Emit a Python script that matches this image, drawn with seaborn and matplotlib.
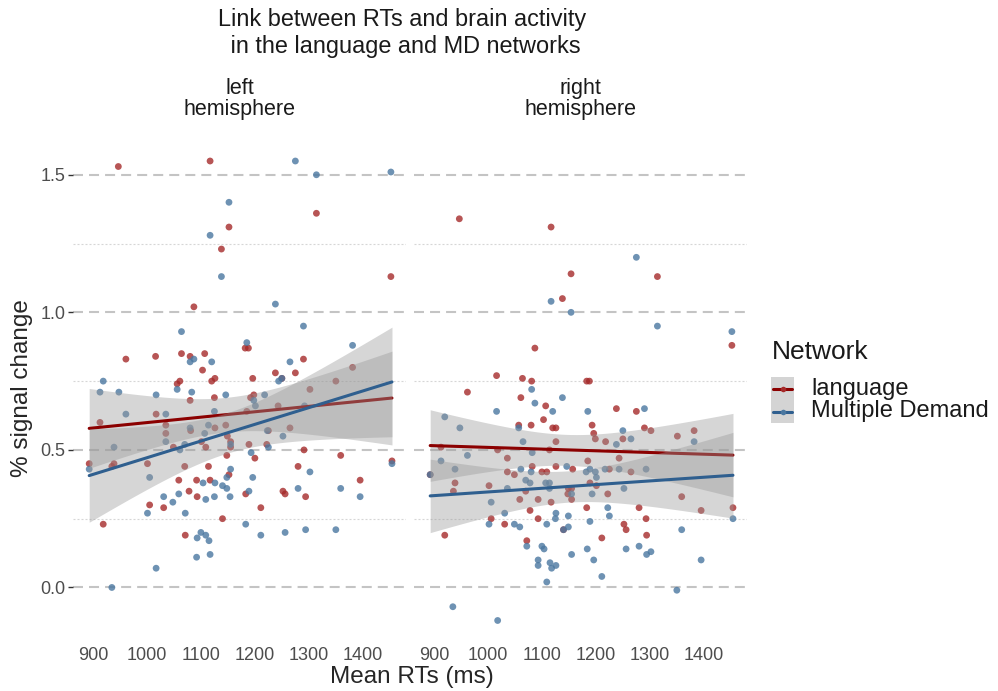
import numpy as np
import pandas as pd
import matplotlib
matplotlib.use("Agg")
import matplotlib.pyplot as plt
import seaborn as sns
from matplotlib.lines import Line2D
from matplotlib.patches import Rectangle

# mean RT (ms) and % signal change per subject
lh_lang_rt = [947, 1117, 1152, 1138, 1314, 1452, 1087, 1182, 1188, 961, 1016, 1064, 1080, 1107, 1290, 1381,
              1238, 1103, 1056, 1061, 1120, 1126, 1125, 1080, 1017, 913, 1035, 1035, 1126, 1146, 1081, 1101,
              1109, 1049, 1148, 893, 935, 939, 1001, 1070, 1114, 1152, 1059, 1092, 1117, 1078, 1093, 1005,
              1031, 1140, 919, 1071, 1250, 1275, 1196, 1198, 1192, 1149, 1155, 1155, 1185, 1243, 1302, 1350,
              1225, 1265, 1222, 1189, 1291, 1200, 1359, 1454, 1280, 1183, 1252, 1256, 1294, 1395, 1211]
lh_lang_psc = [1.53, 1.55, 1.31, 1.23, 1.36, 1.13, 1.02, 0.87, 0.87, 0.83, 0.84, 0.85, 0.84, 0.85, 0.83, 0.80,
               0.78, 0.79, 0.74, 0.75, 0.75, 0.76, 0.69, 0.68, 0.63, 0.60, 0.59, 0.56, 0.58, 0.59, 0.57, 0.53,
               0.51, 0.51, 0.48, 0.45, 0.44, 0.45, 0.45, 0.44, 0.44, 0.41, 0.39, 0.39, 0.39, 0.35, 0.33, 0.30,
               0.29, 0.25, 0.23, 0.19, 0.76, 0.78, 0.76, 0.70, 0.69, 0.55, 0.53, 0.51, 0.64, 0.66, 0.72, 0.75,
               0.57, 0.58, 0.52, 0.52, 0.50, 0.47, 0.48, 0.46, 0.44, 0.34, 0.35, 0.34, 0.33, 0.39, 0.29]

lh_md_rt = [1152, 1117, 1138, 1064, 1080, 1087, 1120, 1275, 1314, 1452, 1238, 1290, 1185, 1381, 1265, 919,
            913, 948, 1056, 1083, 1017, 1146, 1125, 1035, 961, 1035, 1114, 1080, 1107, 1061, 1070, 939,
            893, 1155, 1148, 1005, 1104, 1126, 1140, 1148, 1059, 1031, 1048, 1109, 1125, 1154, 1001, 1071,
            1100, 1093, 1109, 1115, 1092, 1117, 1017, 935, 1244, 1250, 1218, 1198, 1201, 1292, 1155, 1223,
            1252, 1225, 1193, 1454, 1302, 1196, 1189, 1280, 1359, 1395, 1183, 1211, 1256, 1294, 1350]
lh_md_psc = [1.40, 1.28, 1.13, 0.93, 0.82, 0.83, 0.82, 1.55, 1.50, 1.51, 1.03, 0.95, 0.89, 0.88, 0.82, 0.75,
             0.71, 0.71, 0.72, 0.71, 0.70, 0.70, 0.64, 0.63, 0.63, 0.53, 0.59, 0.58, 0.56, 0.50, 0.52, 0.51,
             0.43, 0.43, 0.40, 0.40, 0.38, 0.38, 0.37, 0.36, 0.34, 0.33, 0.31, 0.32, 0.33, 0.33, 0.27, 0.27,
             0.20, 0.18, 0.19, 0.17, 0.11, 0.12, 0.07, 0.00, 0.75, 0.76, 0.70, 0.68, 0.66, 0.66, 0.52, 0.57,
             0.55, 0.51, 0.49, 0.45, 0.42, 0.40, 0.35, 0.36, 0.36, 0.33, 0.23, 0.19, 0.20, 0.21, 0.21]

rh_lang_rt = [947, 1117, 1154, 1138, 1314, 1452, 1087, 1016, 1064, 1081, 962, 1061, 1183, 1188, 1107, 1103,
              1057, 1080, 1120, 1126, 1126, 913, 1018, 1114, 1036, 1082, 1126, 1157, 1036, 1049, 1100, 1109,
              893, 939, 936, 1002, 1070, 1149, 1155, 1148, 1059, 1093, 1117, 1155, 1078, 1006, 1093, 1031,
              1140, 920, 1072, 1238, 1275, 1193, 1196, 1199, 1290, 1302, 1218, 1250, 1351, 1382, 1243, 1185,
              1225, 1265, 1189, 1201, 1222, 1359, 1183, 1280, 1293, 1395, 1454, 1252, 1256, 1294, 1211]
rh_lang_psc = [1.34, 1.31, 1.14, 1.05, 1.13, 0.88, 0.87, 0.77, 0.76, 0.75, 0.71, 0.69, 0.75, 0.75, 0.66, 0.61,
               0.59, 0.59, 0.58, 0.58, 0.53, 0.51, 0.50, 0.50, 0.47, 0.44, 0.44, 0.43, 0.42, 0.41, 0.42, 0.42,
               0.41, 0.38, 0.35, 0.37, 0.35, 0.36, 0.36, 0.34, 0.32, 0.32, 0.31, 0.32, 0.28, 0.25, 0.25, 0.23,
               0.21, 0.19, 0.17, 0.65, 0.64, 0.59, 0.56, 0.54, 0.58, 0.57, 0.53, 0.54, 0.55, 0.57, 0.47, 0.46,
               0.43, 0.42, 0.38, 0.37, 0.34, 0.33, 0.29, 0.29, 0.25, 0.28, 0.29, 0.23, 0.21, 0.19, 0.18]

rh_md_rt = [1275, 1117, 1154, 1314, 1452, 1081, 1138, 1087, 1120, 920, 1016, 1057, 948, 1065, 1082, 962,
            913, 1146, 939, 1061, 1080, 893, 1070, 1078, 1107, 1114, 1036, 1114, 1155, 1006, 1126, 1031,
            1125, 1149, 1002, 1049, 1059, 1109, 1140, 1149, 1072, 1100, 1104, 1155, 1093, 1093, 1115, 1118,
            1126, 1109, 935, 1018, 1185, 1290, 1250, 1238, 1265, 1382, 1182, 1189, 1199, 1217, 1243, 1293,
            1201, 1193, 1252, 1222, 1225, 1454, 1189, 1359, 1184, 1256, 1280, 1294, 1302, 1196, 1395, 1211, 1350]
rh_md_psc = [1.20, 1.04, 1.00, 0.95, 0.93, 0.72, 0.69, 0.67, 0.64, 0.62, 0.64, 0.58, 0.58, 0.53, 0.49, 0.48,
             0.46, 0.44, 0.43, 0.43, 0.42, 0.41, 0.39, 0.38, 0.38, 0.38, 0.36, 0.36, 0.34, 0.31, 0.27, 0.27,
             0.25, 0.26, 0.23, 0.23, 0.22, 0.23, 0.21, 0.22, 0.15, 0.15, 0.14, 0.12, 0.10, 0.08, 0.09, 0.07,
             0.08, 0.02, -0.07, -0.12, 0.64, 0.65, 0.57, 0.52, 0.54, 0.53, 0.42, 0.43, 0.42, 0.43, 0.43, 0.43,
             0.40, 0.34, 0.36, 0.29, 0.26, 0.25, 0.24, 0.21, 0.14, 0.14, 0.15, 0.12, 0.13, 0.10, 0.10, 0.04, -0.01]

hemis = ['left\nhemisphere', 'right\nhemisphere']
networks = ['language', 'Multiple Demand']

frames = []
for hemi, net, rt, psc in [(hemis[0], networks[0], lh_lang_rt, lh_lang_psc),
                           (hemis[0], networks[1], lh_md_rt, lh_md_psc),
                           (hemis[1], networks[0], rh_lang_rt, rh_lang_psc),
                           (hemis[1], networks[1], rh_md_rt, rh_md_psc)]:
    frames.append(pd.DataFrame({'hemi': hemi, 'network': net, 'rt': rt, 'psc': psc}))
df = pd.concat(frames, ignore_index=True)

sns.set_theme(style="white")
plt.rcParams['font.family'] = ['Liberation Sans', 'DejaVu Sans']

line_col = {'language': '#8B0000', 'Multiple Demand': '#2F5F8F'}
point_col = {'language': '#A52A2A', 'Multiple Demand': '#4A77A0'}
band_col = '#999999'

W, H = 998, 691
fx = lambda px: px / W        # pixel -> figure fraction
fy = lambda py: 1 - py / H

fig, axes = plt.subplots(1, 2, figsize=(9.98, 6.91), dpi=100, sharey=True)
fig.subplots_adjust(left=fx(73), right=fx(747), top=fy(139), bottom=fy(642.5), wspace=0.024)

for ax, hemi in zip(axes, hemis):
    sub = df[df.hemi == hemi]
    sns.scatterplot(data=sub, x='rt', y='psc', hue='network', palette=point_col, hue_order=networks,
                    s=24, alpha=0.8, linewidth=0, legend=False, ax=ax, zorder=2)
    z = 3
    for net in networks:
        d = sub[sub.network == net]
        x = d.rt.values.astype(float)
        y = d.psc.values
        # linear fit with 95% confidence band (like geom_smooth(method='lm'))
        b, a = np.polyfit(x, y, 1)
        xs = np.linspace(x.min(), x.max(), 100)
        fit = a + b * xs
        n = len(x)
        resid = y - (a + b * x)
        s = np.sqrt(np.sum(resid ** 2) / (n - 2))
        se = s * np.sqrt(1 / n + (xs - x.mean()) ** 2 / np.sum((x - x.mean()) ** 2))
        ax.fill_between(xs, fit - 1.99 * se, fit + 1.99 * se, color=band_col, alpha=0.4, linewidth=0, zorder=z)
        ax.plot(xs, fit, color=line_col[net], linewidth=2.2, zorder=z + 1)
        z += 2

    ax.set_xlim(863, 1480)
    ax.set_ylim(-0.2, 1.63)
    ax.set_xticks([900, 1000, 1100, 1200, 1300, 1400])
    ax.set_yticks([0, 0.5, 1.0, 1.5])
    ax.set_yticks([0.25, 0.75, 1.25], minor=True)
    ax.set_yticklabels(['0.0', '0.5', '1.0', '1.5'])
    ax.set_axisbelow(True)
    ax.grid(axis='y', which='major', color='#C4C4C4', linestyle=(0, (4.8, 2.9)), linewidth=1.5)
    ax.grid(axis='y', which='minor', color='#D6D6D6', linestyle=(0, (1.8, 1.8)), linewidth=0.8)
    ax.grid(axis='x', visible=False)
    for sp in ax.spines.values():
        sp.set_visible(False)
    ax.set_xlabel('')
    ax.set_ylabel('')
    ax.tick_params(axis='x', length=0, pad=3, labelsize=13, labelcolor='#4D4D4D')
    ax.tick_params(axis='y', which='minor', length=0)
    ax.text(0.5, 1 + 40/503.5, hemi, transform=ax.transAxes, ha='center', va='center',
            fontsize=15.5, linespacing=0.95, color='#1A1A1A')

axes[0].tick_params(axis='y', which='major', left=True, length=3.5, width=1, color='#333333',
                    pad=2, labelsize=13, labelcolor='#4D4D4D')
axes[1].tick_params(axis='y', which='major', left=False, labelleft=False)

fig.text(fx(402), fy(33), 'Link between RTs and brain activity\n in the language and MD networks',
         ha='center', va='center', fontsize=16.9, color='#1A1A1A')
fig.text(fx(412), fy(677), 'Mean RTs (ms)', ha='center', va='center', fontsize=17.5)
fig.text(fx(22), fy(388), '% signal change', ha='center', va='center', rotation=90, fontsize=17.5)

# legend drawn by hand: grey key boxes with line + dot, like ggplot's guide
fig.text(fx(772), fy(359), 'Network', ha='left', va='baseline', fontsize=19, color='#1A1A1A')
for i, net in enumerate(networks):
    top = 377 + 23 * i
    mid = top + 11.5
    fig.add_artist(Rectangle((fx(771), fy(top + 23)), 23 / W, 23 / H, transform=fig.transFigure,
                             facecolor='#D4D4D4', edgecolor='none'))
    fig.add_artist(Line2D([fx(773), fx(792)], [fy(mid), fy(mid)], transform=fig.transFigure,
                          color=line_col[net], linewidth=2.2))
    fig.add_artist(Line2D([fx(782.5)], [fy(mid)], transform=fig.transFigure, marker='o', markersize=4,
                          markerfacecolor=point_col[net], markeredgewidth=0, linestyle='none'))
    fig.text(fx(811), fy(mid), net, ha='left', va='center', fontsize=17, color='#1A1A1A')

fig.savefig('out.png', dpi=100)
